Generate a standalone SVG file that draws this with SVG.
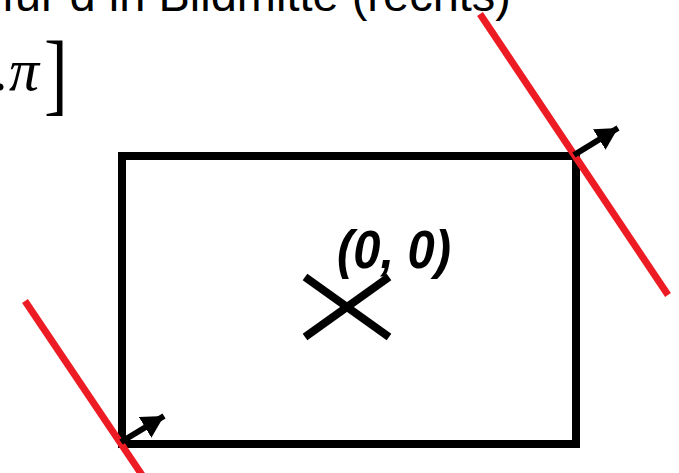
<svg xmlns="http://www.w3.org/2000/svg" width="679" height="473" viewBox="0 0 679 473">
  <style>
    .red { stroke: #ed1c24; stroke-width: 7; fill: none; }
    .blk { stroke: #000; stroke-width: 8; fill: none; }
    .arrow { stroke: #000; stroke-width: 6; fill: none; marker-end: url(#head); }
    .title { font-family: "Liberation Sans", Arial, sans-serif; font-size: 47px; fill: #000; }
    .math { font-family: "Liberation Serif", "Times New Roman", serif; font-style: italic; fill: #000; }
    .lbl { font-family: "Liberation Sans", Arial, sans-serif; font-weight: bold; font-style: italic; font-size: 53px; fill: #000; }
  </style>
  <defs>
    <marker id="head" markerUnits="userSpaceOnUse" markerWidth="24" markerHeight="26" refX="22" refY="12" orient="auto">
      <path d="M0,0 L22,12 L0,24 Z" fill="#000"/>
    </marker>
  </defs>

  <g id="title">
    <text class="title" x="511" y="11" text-anchor="end">für d in Bildmitte (rechts)</text>
  </g>
  <g id="range">
    <text class="math" x="-6" y="90" font-size="60">.π</text>
    <text x="0" y="0" font-family="Liberation Serif, serif" font-size="84" transform="translate(44,104) scale(0.85,1.08)">]</text>
  </g>

  <g id="image-frame">
    <rect class="blk" x="122" y="156" width="454" height="288"/>
  </g>

  <g id="origin">
    <line class="blk" x1="305" y1="277" x2="389" y2="337" stroke-width="7"/>
    <line class="blk" x1="305" y1="337" x2="389" y2="277" stroke-width="7"/>
    <text class="lbl" x="337" y="268" textLength="114" lengthAdjust="spacingAndGlyphs">(0, 0)</text>
  </g>

  <g id="connectors">
    <line class="red" x1="480" y1="14" x2="668" y2="295"/>
    <line class="red" x1="25" y1="301" x2="142" y2="475"/>
    <line class="arrow" x1="574" y1="155" x2="618" y2="128"/>
    <line class="arrow" x1="121" y1="442" x2="164" y2="416"/>
  </g>
</svg>
